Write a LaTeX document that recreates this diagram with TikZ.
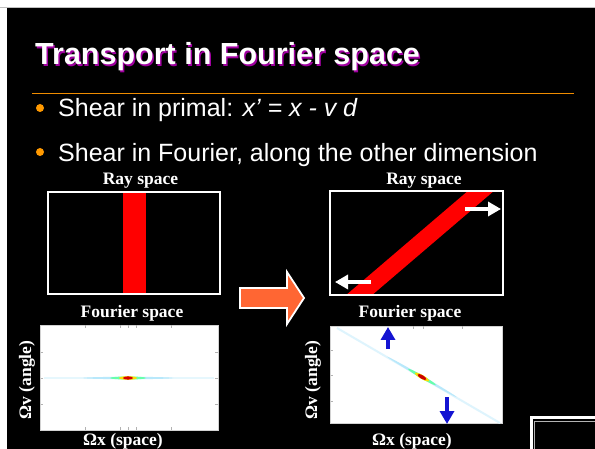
\documentclass[tikz,border=0pt]{standalone}
\usepackage{fontspec}
\setmainfont{Liberation Serif}
\newfontfamily\slidefont{Liberation Sans}
\usetikzlibrary{arrows.meta}
\definecolor{bulletorange}{HTML}{FF9900}
\definecolor{ruleorange}{HTML}{F08C00}
\definecolor{titleshadow}{HTML}{A000A0}
\definecolor{bandred}{HTML}{FF0000}
\definecolor{bigarrow}{HTML}{FF6633}
\definecolor{shiftblue}{HTML}{1414D2}

\begin{document}
\begin{tikzpicture}[x=1pt,y=-1pt,
  slidetitle/.style={font=\slidefont\bfseries\fontsize{30.5}{36}\selectfont,anchor=base west,inner sep=0pt},
  bulletline/.style={font=\slidefont\fontsize{25}{30}\selectfont,text=white,anchor=base west,inner sep=0pt},
  paneltext/.style={font=\bfseries\fontsize{17.5}{21}\selectfont,text=white,anchor=base,inner sep=0pt},
  raybox/.style={draw=white,line width=1.5pt,inner sep=0pt,outer sep=0pt},
  plotbox/.style={fill=white,draw=gray!35,line width=0.4pt,inner sep=0pt,outer sep=0pt},
  shiftarrow/.style={line width=4.5pt,-{Triangle[length=13pt,width=14pt]}},
  plottick/.style={gray!60,line width=0.5pt}]
\useasboundingbox (0,0) rectangle (595,449);

% ===== slide background =====
\fill[white] (0,0) rectangle (595,449);
\fill[black] (6.5,8) rectangle (595,449);
\draw[gray!50,line width=0.8pt] (0,7.5) -- (595,7.5);

% ===== title + bullets =====
\node[slidetitle,text=titleshadow] (titleshade) at (36.5,66.5) {Transport in Fourier space};
\node[slidetitle,text=white] (title) at (35,65) {Transport in Fourier space};
\draw[ruleorange,line width=1.3pt] (32,93.5) -- (574,93.5);
\fill[bulletorange] (40,108) circle (4pt);
\node[bulletline] (bull1) at (58,117) {Shear in primal: \textit{x’ = x - v d}};
\fill[bulletorange] (40,152) circle (4pt);
\node[bulletline] (bull2) at (58,162) {Shear in Fourier, along the other dimension};

% ===== ray space, before =====
\node[paneltext] (raylabL) at (140.5,185) {Ray space};
\fill[bandred] (123,192) rectangle (146,294);
\node[raybox,minimum width=172pt,minimum height=102pt] (rayL) at (134,243) {};

% ===== ray space, after (sheared) =====
\node[paneltext] (raylabR) at (424,185) {Ray space};
\begin{scope}
  \clip (330,191) rectangle (503,295);
  \fill[bandred] (345,296) -- (371,296) -- (495,190) -- (469,190) -- cycle;
\end{scope}
\node[raybox,minimum width=173pt,minimum height=104pt] (rayR) at (416.5,243) {};
\coordinate (pushtopA) at (465,209);
\coordinate (pushtopB) at (501,209);
\coordinate (pushbotA) at (371,282);
\coordinate (pushbotB) at (335,282);
\draw[shiftarrow,white] (pushtopA) -- (pushtopB);
\draw[shiftarrow,white] (pushbotA) -- (pushbotB);

% ===== big arrow between the columns =====
\draw[fill=bigarrow,draw=white,line width=1.8pt]
  (240,288) -- (287,288) -- (287,272) -- (304,298) -- (287,324) -- (287,308) -- (240,308) -- cycle;

% ===== Fourier space, before =====
\node[paneltext] (fourlabL) at (132,318) {Fourier space};
\node[plotbox,minimum width=178pt,minimum height=105pt] (fourL) at (129,377.5) {};
\fill[cyan!10] (44,377) rectangle (214,379);
\fill[cyan!28] (128,378) ellipse [x radius=45pt,y radius=1.2pt];
\fill[green!55!cyan!60] (128,378) ellipse [x radius=18pt,y radius=1.5pt];
\fill[yellow!80!orange] (128,378) ellipse [x radius=9pt,y radius=1.8pt];
\fill[red!85!black] (128,378) ellipse [x radius=5pt,y radius=1.6pt];
\foreach \tx in {85,120,128,136,171}{
  \draw[plottick] (\tx,325.5) -- (\tx,328);
  \draw[plottick] (\tx,427) -- (\tx,429.5);}
\foreach \ty in {352,378,404}{
  \draw[plottick] (40.5,\ty) -- (43,\ty);
  \draw[plottick] (215,\ty) -- (217.5,\ty);}
\node[paneltext,rotate=90,anchor=center] (axvL) at (27,380) {Ωv (angle)};
\node[paneltext] (axxL) at (123,445) {Ωx (space)};

% ===== Fourier space, after (sheared the other way) =====
\node[paneltext] (fourlabR) at (410,318) {Fourier space};
\node[plotbox,minimum width=172pt,minimum height=97pt] (fourR) at (416,374.5) {};
\draw[cyan!13,line width=2pt] (337,328) -- (500,423);
\begin{scope}[rotate around={-30.2:(422,377)}]
  \fill[cyan!28] (422,377) ellipse [x radius=40pt,y radius=1.2pt];
  \fill[green!55!cyan!60] (422,377) ellipse [x radius=16pt,y radius=1.6pt];
  \fill[yellow!80!orange] (422,377) ellipse [x radius=8pt,y radius=2pt];
  \fill[red!80!black] (422,377) ellipse [x radius=5pt,y radius=1.8pt];
\end{scope}
\foreach \tx in {413,423,462}{
  \draw[plottick] (\tx,326.5) -- (\tx,329);}
\foreach \ty in {350,375,401}{
  \draw[plottick] (330.5,\ty) -- (333,\ty);}
\coordinate (liftA) at (388,349);
\coordinate (liftB) at (388,327);
\coordinate (dropA) at (447,397);
\coordinate (dropB) at (447,424);
\draw[shiftarrow,shiftblue] (liftA) -- (liftB);
\draw[shiftarrow,shiftblue] (dropA) -- (dropB);
\node[paneltext,rotate=90,anchor=center] (axvR) at (313,380) {Ωv (angle)};
\node[paneltext] (axxR) at (412,445) {Ωx (space)};

% ===== corner box =====
\draw[white,line width=3pt] (531,449) -- (531,417.5) -- (595,417.5);
\draw[gray!60,line width=0.6pt] (534.5,449) -- (534.5,421) -- (595,421);
\end{tikzpicture}
\end{document}
